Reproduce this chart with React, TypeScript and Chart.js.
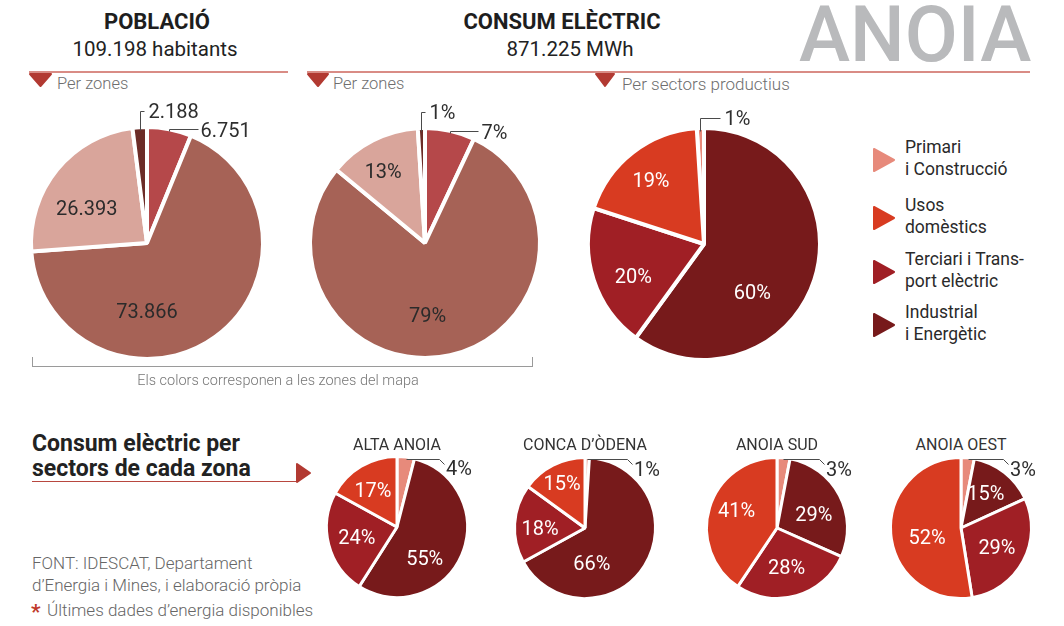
import React, { useEffect, useRef } from "react";
import { Chart, registerables } from "chart.js";
Chart.register(...registerables);

// ---------- DATA ----------
const zoneSliceNames = ["Zona 1", "Zona 2", "Zona 3", "Zona 4"];
const populationByZone = [6751, 73866, 26393, 2188];
const consumptionByZonePct = [7, 79, 13, 1];
const zoneColors = ["#b5484a", "#a66256", "#d9a59b", "#6c2c27"];
const totalConsumptionMWh = 871225;

const sectorNames = ["Primari i Construcció", "Usos domèstics", "Terciari i Transport elèctric", "Industrial i Energètic"];
const sectorLegendLines = [["Primari", "i Construcció"], ["Usos", "domèstics"], ["Terciari i Trans-", "port elèctric"], ["Industrial", "i Energètic"]];
const sectorColors = ["#e78a7b", "#d83b21", "#a01f25", "#771a1b"];
const anoiaSectorPct = [1, 19, 20, 60];

const zoneTitles = ["ALTA ANOIA", "CONCA D\u2019ÒDENA", "ANOIA SUD", "ANOIA OEST"];
const altaAnoiaSectorPct = [4, 17, 24, 55];
const concaOdenaSectorPct = [1, 15, 18, 66];
const anoiaSudSectorPct = [3, 41, 28, 29];
const anoiaOestSectorPct = [3, 52, 29, 15];

// drawing order clockwise: Primari, Industrial, Terciari, Usos
const sectorDrawOrder = [0, 3, 2, 1];

const FONT = "Roboto, 'Open Sans', 'DejaVu Sans', sans-serif";

const fmtThousands = (n: number) => String(n).replace(/\B(?=(\d{3})+(?!\d))/g, ".");
const pct = (n: number) => n + "%";

type Spec =
  | { kind: "in"; a: number; d: number }
  | { kind: "elbow"; up: number; len: number; gap: number }
  | { kind: "bracket"; up: number; tick: number; gap: number }
  | { kind: "flat"; endDx: number; textDx: number; textDy: number }
  | null;

interface PieProps {
  cx: number;
  cy: number;
  r: number;
  half: number;
  border: number;
  rotation: number;
  values: number[];
  colors: string[];
  names: string[];
  texts: string[];
  specs: Spec[];
  inColor: string;
  fontSize: number;
  outFontSize: number;
}

function PieCanvas(p: PieProps) {
  const ref = useRef<HTMLCanvasElement>(null);
  useEffect(() => {
    const canvas = ref.current!;
    const labelPlugin = {
      id: "pieLabels",
      afterDatasetsDraw(chart: any) {
        const ctx = chart.ctx as CanvasRenderingContext2D;
        const arcs = chart.getDatasetMeta(0).data;
        ctx.save();
        arcs.forEach((arc: any, i: number) => {
          const spec = p.specs[i];
          if (!spec) return;
          const { x, y, startAngle, endAngle } = arc.getProps(["x", "y", "startAngle", "endAngle"], true);
          const text = p.texts[i];
          ctx.textBaseline = "middle";
          if (spec.kind === "in") {
            const t = ((spec.a - 90) * Math.PI) / 180;
            const px = x + Math.cos(t) * spec.d * p.r;
            const py = y + Math.sin(t) * spec.d * p.r;
            ctx.font = `400 ${p.fontSize}px ${FONT}`;
            ctx.fillStyle = p.inColor;
            ctx.textAlign = "center";
            ctx.fillText(text, px, py + 2);
            return;
          }
          const mid = (startAngle + endAngle) / 2;
          const sx = Math.round(x + Math.cos(mid) * p.r) + 0.5;
          const sy = Math.round(y + Math.sin(mid) * p.r) + 0.5;
          ctx.strokeStyle = "#4a4a4a";
          ctx.lineWidth = 1;
          ctx.beginPath();
          let tx = 0;
          let ty = 0;
          if (spec.kind === "elbow") {
            ctx.moveTo(sx, sy);
            ctx.lineTo(sx, sy - spec.up);
            ctx.lineTo(sx + spec.len, sy - spec.up);
            tx = sx + spec.len + spec.gap;
            ty = sy - spec.up + 1;
          } else if (spec.kind === "bracket") {
            ctx.moveTo(sx, sy + 1);
            ctx.lineTo(sx, sy - spec.up);
            ctx.lineTo(sx + spec.tick, sy - spec.up);
            tx = sx + spec.tick + spec.gap;
            ty = sy - spec.up;
          } else if (spec.kind === "flat") {
            const ex = Math.round(x + spec.endDx) + 0.5;
            ctx.moveTo(sx, sy);
            ctx.lineTo(ex, sy);
            ctx.lineTo(ex + 5, sy + 5);
            tx = x + spec.textDx;
            ty = y + spec.textDy;
          }
          ctx.stroke();
          ctx.font = `400 ${p.outFontSize}px ${FONT}`;
          ctx.fillStyle = "#2e2e2e";
          ctx.textAlign = "left";
          ctx.fillText(text, tx, ty + 1.5);
        });
        ctx.restore();
      },
    };
    const chart = new Chart(canvas, {
      type: "pie",
      data: {
        labels: p.names,
        datasets: [
          {
            data: p.values,
            backgroundColor: p.colors,
            borderColor: "#ffffff",
            borderWidth: p.border,
            hoverOffset: 0,
          },
        ],
      },
      options: {
        responsive: false,
        maintainAspectRatio: false,
        animation: false,
        devicePixelRatio: 1,
        radius: p.r + p.border / 2,
        rotation: p.rotation,
        events: [],
        layout: { padding: 0 },
        plugins: { legend: { display: false }, tooltip: { enabled: false } },
      } as any,
      plugins: [labelPlugin],
    });
    return () => chart.destroy();
  }, []);
  return (
    <canvas
      ref={ref}
      width={p.half * 2}
      height={p.half * 2}
      style={{ position: "absolute", left: p.cx - p.half, top: p.cy - p.half, width: p.half * 2, height: p.half * 2 }}
    />
  );
}

function Txt(props: {
  x: number;
  y: number;
  size: number;
  weight?: number;
  color?: string;
  align?: "left" | "center";
  children: React.ReactNode;
}) {
  const { x, y, size, weight = 400, color = "#2a2a2a", align = "left" } = props;
  const style: React.CSSProperties = {
    position: "absolute",
    left: x,
    top: y - size / 2,
    fontSize: size,
    lineHeight: `${size}px`,
    fontWeight: weight,
    color,
    whiteSpace: "nowrap",
    fontFamily: FONT,
  };
  if (align === "center") style.transform = "translateX(-50%)";
  return <div style={style}>{props.children}</div>;
}

function HLine({ x1, x2, y, color, h = 2 }: { x1: number; x2: number; y: number; color: string; h?: number }) {
  return <div style={{ position: "absolute", left: x1, top: y - h / 2, width: x2 - x1, height: h, background: color }} />;
}

function Tri({ points, color }: { points: string; color: string }) {
  return (
    <svg style={{ position: "absolute", left: 0, top: 0, overflow: "visible" }} width={1} height={1}>
      <polygon points={points} fill={color} stroke={color} strokeWidth={2} strokeLinejoin="round" />
    </svg>
  );
}

const sectorPie = (vals: number[]) => sectorDrawOrder.map((i) => vals[i]);
const sectorPieColors = sectorDrawOrder.map((i) => sectorColors[i]);
const sectorPieNames = sectorDrawOrder.map((i) => sectorNames[i]);

const bottomFlat: Spec = { kind: "flat", endDx: 42, textDx: 49, textDy: -59 };
const bottomPies = [
  { cx: 397, cy: 527, vals: altaAnoiaSectorPct, specs: [bottomFlat, { kind: "in", a: 138, d: 0.6 }, { kind: "in", a: 256, d: 0.6 }, { kind: "in", a: 327, d: 0.64 }] as Spec[] },
  { cx: 585, cy: 528, vals: concaOdenaSectorPct, specs: [bottomFlat, { kind: "in", a: 169, d: 0.52 }, { kind: "in", a: 270, d: 0.65 }, { kind: "in", a: 333, d: 0.73 }] as Spec[] },
  { cx: 777, cy: 528, vals: anoiaSudSectorPct, specs: [bottomFlat, { kind: "in", a: 69, d: 0.57 }, { kind: "in", a: 166, d: 0.58 }, { kind: "in", a: 294, d: 0.64 }] as Spec[] },
  { cx: 961, cy: 528, vals: anoiaOestSectorPct, specs: [bottomFlat, { kind: "in", a: 35.5, d: 0.62 }, { kind: "in", a: 118, d: 0.59 }, { kind: "in", a: 255, d: 0.51 }] as Spec[] },
];

export default function App() {
  const totalPop = populationByZone.reduce((a, b) => a + b, 0);
  const red = "#b23a32";
  const lineRed = "#d98c85";
  const gray = "#6e6e6e";
  return (
    <div style={{ position: "absolute", left: 0, top: 0, width: 1064, height: 626, background: "#fff", overflow: "hidden", fontFamily: FONT }}>
      {/* Headers */}
      <Txt x={157} y={22} size={22} weight={700} color="#1e1e1e" align="center">POBLACIÓ</Txt>
      <Txt x={155} y={49} size={20.5} align="center" color="#222">{fmtThousands(totalPop)} habitants</Txt>
      <Txt x={562} y={22} size={22} weight={700} color="#1e1e1e" align="center">CONSUM ELÈCTRIC</Txt>
      <Txt x={570} y={49} size={20.5} align="center" color="#222">{fmtThousands(totalConsumptionMWh)} MWh</Txt>
      <Txt x={799} y={35} size={77} weight={500} color="#b9babc">ANOIA</Txt>

      <HLine x1={29} x2={288} y={72} color={lineRed} />
      <HLine x1={307} x2={1030} y={72} color={lineRed} />
      <Tri points="30,74 51,74 40.5,86" color={red} />
      <Tri points="308,74 328,74 318,86" color={red} />
      <Tri points="596,74 614,74 605,86" color={red} />
      <Txt x={57} y={84} size={16.5} weight={300} color={gray}>Per zones</Txt>
      <Txt x={333} y={84} size={16.5} weight={300} color={gray}>Per zones</Txt>
      <Txt x={622} y={84} size={17} weight={300} color={gray}>Per sectors productius</Txt>

      {/* Top pies */}
      <PieCanvas
        cx={147} cy={243} r={114} half={145} border={4} rotation={0}
        values={populationByZone} colors={zoneColors} names={zoneSliceNames}
        texts={populationByZone.map(fmtThousands)}
        specs={[{ kind: "elbow", up: 2, len: 29, gap: 2 }, { kind: "in", a: 180, d: 0.6 }, { kind: "in", a: 300, d: 0.61 }, { kind: "bracket", up: 18, tick: 4, gap: 4 }]}
        inColor="#2b2b2b" fontSize={20} outFontSize={20}
      />
      <PieCanvas
        cx={425} cy={243} r={113} half={145} border={4} rotation={0}
        values={consumptionByZonePct} colors={zoneColors} names={zoneSliceNames}
        texts={consumptionByZonePct.map(pct)}
        specs={[{ kind: "elbow", up: 2, len: 28, gap: 3 }, { kind: "in", a: 178, d: 0.64 }, { kind: "in", a: 330, d: 0.74 }, { kind: "bracket", up: 18, tick: 4, gap: 4 }]}
        inColor="#2b2b2b" fontSize={20} outFontSize={20}
      />
      <PieCanvas
        cx={704} cy={244} r={114} half={145} border={4} rotation={-anoiaSectorPct[0] * 3.6}
        values={sectorPie(anoiaSectorPct)} colors={sectorPieColors} names={sectorPieNames}
        texts={sectorPie(anoiaSectorPct).map(pct)}
        specs={[{ kind: "bracket", up: 12, tick: 20, gap: 4 }, { kind: "in", a: 135, d: 0.6 }, { kind: "in", a: 245.7, d: 0.68 }, { kind: "in", a: 320.4, d: 0.73 }]}
        inColor="#ffffff" fontSize={20} outFontSize={20}
      />

      {/* bracket under top pies */}
      <div style={{ position: "absolute", left: 32, top: 357, width: 499, height: 9, borderLeft: "1px solid #9a9a9a", borderRight: "1px solid #9a9a9a", borderBottom: "1px solid #9a9a9a" }} />
      <Txt x={278} y={381} size={14.5} weight={300} color="#777" align="center">Els colors corresponen a les zones del mapa</Txt>

      {/* Legend */}
      {sectorLegendLines.map((lines, i) => {
        const cy = [160, 218, 272, 325][i];
        return (
          <React.Fragment key={i}>
            <Tri points={`874,${cy - 11} 894,${cy} 874,${cy + 11}`} color={sectorColors[i]} />
            <Txt x={905} y={cy - 12} size={17.5} color="#2a2a2a">{lines[0]}</Txt>
            <Txt x={905} y={cy + 10} size={17.5} color="#2a2a2a">{lines[1]}</Txt>
          </React.Fragment>
        );
      })}

      {/* Bottom-left title */}
      <Txt x={32} y={443} size={23} weight={700} color="#222">Consum elèctric per</Txt>
      <Txt x={32} y={468} size={23} weight={700} color="#222">sectors de cada zona</Txt>
      <HLine x1={32} x2={296} y={481.5} color="#b8473f" h={1.5} />
      <Tri points="297,464 310,473 297,482" color={red} />
      <Txt x={32} y={563} size={17} weight={300} color="#666">FONT: IDESCAT, Departament</Txt>
      <Txt x={32} y={585} size={17} weight={300} color="#666">d{"\u2019"}Energia i Mines, i elaboració pròpia</Txt>
      <Txt x={31} y={612} size={21} weight={700} color="#c0392b">*</Txt>
      <Txt x={47} y={610} size={17} weight={300} color="#666">Últimes dades d{"\u2019"}energia disponibles</Txt>

      {/* Bottom pies */}
      {bottomPies.map((bp, i) => (
        <React.Fragment key={i}>
          <Txt x={bp.cx} y={445} size={16} color="#333" align="center">{zoneTitles[i]}</Txt>
          <PieCanvas
            cx={bp.cx} cy={bp.cy} r={69} half={92} border={3} rotation={0}
            values={sectorPie(bp.vals)} colors={sectorPieColors} names={sectorPieNames}
            texts={sectorPie(bp.vals).map(pct)}
            specs={bp.specs}
            inColor="#ffffff" fontSize={20} outFontSize={20}
          />
        </React.Fragment>
      ))}
    </div>
  );
}
